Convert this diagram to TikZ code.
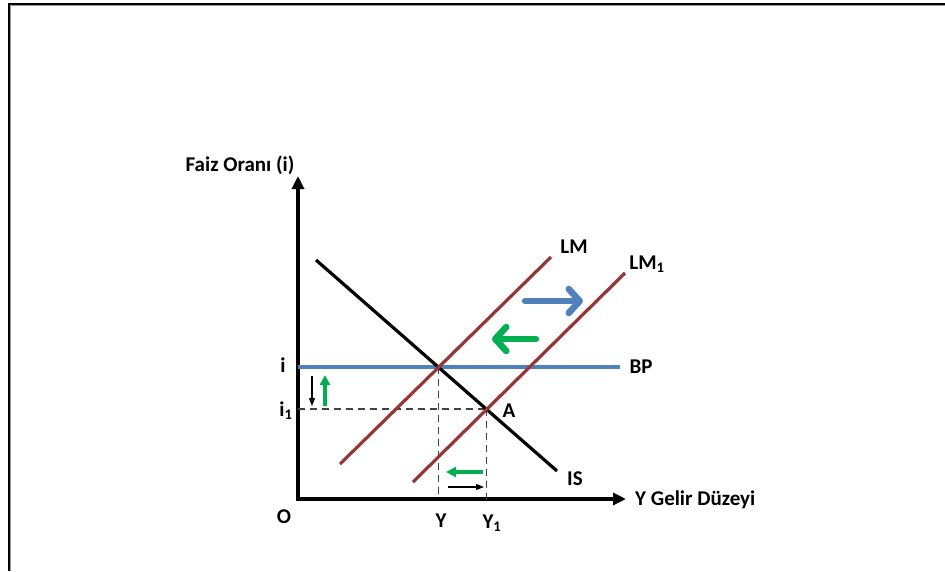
\documentclass[tikz,border=0pt]{standalone}
\usepackage{fontspec}
\setmainfont{Carlito}
\usetikzlibrary{arrows.meta}
\definecolor{lmred}{HTML}{953735}
\definecolor{bpblue}{HTML}{4F81BD}
\definecolor{grn}{HTML}{00B050}
\begin{document}
\begin{tikzpicture}[x=1pt,y=-1pt,
  font=\fontsize{21}{24}\selectfont\bfseries,
  axis/.style={line width=3.2pt,-{Triangle[length=13pt,width=12pt]}},
  curve/.style={line width=3.2pt},
  lmcurve/.style={curve,lmred},
  guide/.style={line width=1.5pt,black!75,dash pattern=on 7pt off 5pt},
  lbl/.style={inner sep=0pt},
  bigarrow/.style={line width=6.5pt,line cap=round,-{Straight Barb[length=11pt,width=24pt,round]}},
  smallgreen/.style={grn,line width=3.2pt,-{Triangle[length=10pt,width=10pt]}},
  smallblack/.style={black,line width=1.1pt,-{Triangle[length=8pt,width=6pt]}}]
\useasboundingbox (0,0) rectangle (945,571);
% frame
\draw[line width=2pt] (945,3.5) -- (8.5,3.5) -- (8.5,571);
\draw[line width=0.8pt,black!40] (945,5.3) -- (10.3,5.3) -- (10.3,571);
% axes
\coordinate (O) at (298,499);
\coordinate (ytop) at (298,176);
\coordinate (xend) at (626,499);
\draw[axis] (O) -- (ytop);
\draw[axis] ([xshift=-1.6pt]O) -- (xend);
% key points
\coordinate (E) at (438.5,367);
\coordinate (A) at (486.5,409);
\coordinate (iax) at (298,367);
\coordinate (i1ax) at (298,409);
\coordinate (Yax) at (438.5,499);
\coordinate (Y1ax) at (486.5,499);
% guides
\draw[guide] (i1ax) -- (A);
\draw[guide] (E) -- (Yax);
\draw[guide] (A) -- (Y1ax);
% BP
\coordinate (bpend) at (620,367);
\draw[curve,bpblue] (iax) -- (bpend);
% IS
\coordinate (is1) at (316,260);
\coordinate (is2) at (557,471);
\draw[curve] (is1) -- (is2);
% LM
\coordinate (lm1) at (340,464);
\coordinate (lm2) at (551,257);
\draw[lmcurve] (lm1) -- (lm2);
\coordinate (lmb1) at (413,482);
\coordinate (lmb2) at (625,273);
\draw[lmcurve] (lmb1) -- (lmb2);
% labels
\node[lbl] (tFaiz) at (240,165) {Faiz Oranı (i)};
\node[lbl,anchor=west] (tY) at (635,500) {Y Gelir Düzeyi};
\node[lbl] (tIS) at (575,479) {IS};
\node[lbl] (tBP) at (641,367) {BP};
\node[lbl] (tLM) at (574,247) {LM};
\node[lbl] (tLM1) at (647,264) {LM$_{\mathbf{1}}$};
\node[lbl] (tA) at (509,411) {A};
\node[lbl] (ti) at (283,365) {i};
\node[lbl] (ti1) at (286,411) {i$_{\mathbf{1}}$};
\node[lbl] (tO) at (284,517) {O};
\node[lbl] (tYl) at (441,521) {Y};
\node[lbl] (tY1) at (492,523) {Y$_{\mathbf{1}}$};
% shift arrows
\coordinate (bb1) at (525,301);
\coordinate (bb2) at (583,301);
\draw[bigarrow,bpblue] (bb1) -- (bb2);
\coordinate (gb1) at (536,339);
\coordinate (gb2) at (492,339);
\draw[bigarrow,grn] (gb1) -- (gb2);
% small arrows
\coordinate (kd1) at (312,376);
\coordinate (kd2) at (312,406);
\draw[smallblack] (kd1) -- (kd2);
\coordinate (gu1) at (325,406);
\coordinate (gu2) at (325,375);
\draw[smallgreen] (gu1) -- (gu2);
\coordinate (gl1) at (483,472);
\coordinate (gl2) at (446,472);
\draw[smallgreen] (gl1) -- (gl2);
\coordinate (kr1) at (448,487);
\coordinate (kr2) at (484,487);
\draw[smallblack] (kr1) -- (kr2);
\end{tikzpicture}
\end{document}
